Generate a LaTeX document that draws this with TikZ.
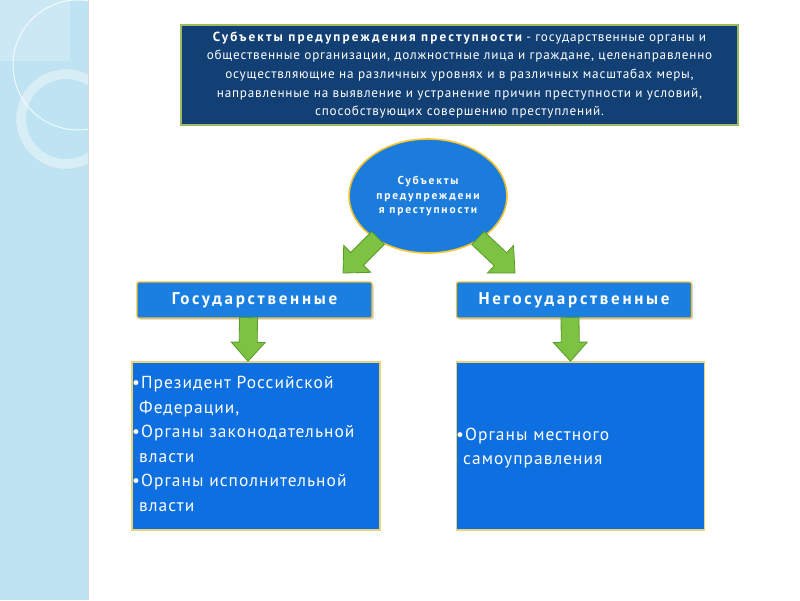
\documentclass[tikz,border=0pt]{standalone}
\usepackage{fontspec}
\setmainfont{PT Sans}[LetterSpace=6]
\newfontfamily\lblfont{PT Sans}[LetterSpace=16]
\usetikzlibrary{shapes.geometric,calc,shadows}
\definecolor{strip}{HTML}{BEE3F2}
\definecolor{navy}{HTML}{123F74}
\definecolor{topborder}{HTML}{9DBB61}
\definecolor{ellfill}{HTML}{1C7CDC}
\definecolor{gold}{HTML}{F2C230}
\definecolor{lblfill}{HTML}{1A7FE0}
\definecolor{boxfill}{HTML}{0D6FE0}
\definecolor{boxborder}{HTML}{E8D27A}
\definecolor{agreen}{HTML}{7DC242}
\definecolor{adark}{HTML}{5A9A2A}
\tikzset{
  topbox/.style={draw=topborder, line width=2pt, fill=navy, text=white, minimum width=557pt, minimum height=100pt, align=center, inner sep=0pt},
  ellbox/.style={ellipse, draw=gold, line width=1.6pt, fill=ellfill, text=white, minimum width=158pt, minimum height=114pt, align=center, inner sep=0pt, font=\lblfont\fontsize{11.5}{14.5}\selectfont\bfseries},
  lblbox/.style={draw=gold, line width=1.2pt, fill=lblfill, text=white, rounded corners=2pt, minimum width=235pt, minimum height=36pt, font=\lblfont\fontsize{17}{18}\selectfont\bfseries, drop shadow={shadow xshift=1.5pt, shadow yshift=-1.5pt, opacity=0.35}},
  bigbox/.style={draw=boxborder, line width=1.5pt, fill=boxfill, text=white, minimum width=248pt, minimum height=168pt, inner sep=0pt},
  listtext/.style={text=white, align=left, inner sep=0pt, font=\fontsize{17.4}{24.5}\selectfont},
  garrowstyle/.style={fill=agreen, draw=adark, line width=0.8pt, line join=miter},
}
% block arrow from #1 to #2, shaft half width #3, head half width #4, head length #5
\newcommand\garrow[5]{%
  \coordinate (hb) at ($(#2)!#5!(#1)$);
  \path[garrowstyle] ($(#1)!#3!90:(#2)$) -- ($(hb)!#3!-90:(#1)$) -- ($(hb)!#4!-90:(#1)$) -- (#2)
     -- ($(hb)!#4!90:(#1)$) -- ($(hb)!#3!90:(#1)$) -- ($(#1)!#3!-90:(#2)$) -- cycle;
}
\begin{document}
\begin{tikzpicture}[x=1pt,y=-1pt]
\useasboundingbox (0,0) rectangle (800,600);
\fill[white] (0,0) rectangle (800,600);
% left decorative strip
\begin{scope}
\clip (0,0) rectangle (88,600);
\fill[strip] (0,0) rectangle (88,600);
\fill[white,opacity=0.2] (0,0) rectangle (70,61);
\draw[white,opacity=0.8,line width=1pt] (78,65) circle[radius=65];
\draw[white,opacity=0.4,line width=10pt] (66,119) circle[radius=45];
\draw[black!20,opacity=0.3,line width=0.6pt] (66,119) circle[radius=50];
\end{scope}
\draw[black!15,line width=0.8pt] (88.5,0) -- (88.5,600);
% top definition box
\node[topbox] (def) at (459.5,75) {%
  \parbox{550pt}{\centering\fontsize{13.2}{18.6}\selectfont
  {\lblfont\bfseries Субъекты предупреждения преступности} - государственные органы и\\
  общественные организации, должностные лица и граждане, целенаправленно\\
  осуществляющие на различных уровнях и в различных масштабах меры,\\
  направленные на выявление и устранение причин преступности и условий,\\
  способствующих совершению преступлений.}};
% ellipse
\node[ellbox] (ell) at (428,196) {Субъекты\\предупреждени\\я преступности};
% labels
\node[lblbox] (gov) at (254.5,300) {Государственные};
\node[lblbox] (ngov) at (574,300) {Негосударственные};
% bottom boxes
\node[bigbox] (b1) at (256,446) {};
\node[bigbox] (b2) at (580.5,446) {};
\node[listtext, anchor=north west] (t1) at (132,376) {%
  •Президент Российской\\
  \hspace*{7pt}Федерации,\\
  •Органы законодательной\\
  \hspace*{7pt}власти\\
  •Органы исполнительной\\
  \hspace*{7pt}власти};
\node[listtext, anchor=west] (t2) at (456,448) {%
  •Органы местного\\
  \hspace*{7pt}самоуправления};
% arrows
\coordinate (d1s) at (378,238);
\coordinate (d1e) at (343,273);
\coordinate (d2s) at (478,238);
\coordinate (d2e) at (515,273);
\coordinate (v1s) at ($(gov.south)+(-6,-1)$);
\coordinate (v1e) at ($(b1.north)+(-8,0)$);
\coordinate (v2s) at ($(ngov.south)+(-4,-1)$);
\coordinate (v2e) at ($(b2.north)+(-10,0)$);
\garrow{d1s}{d1e}{9pt}{19pt}{20pt}
\garrow{d2s}{d2e}{9pt}{19pt}{20pt}
\garrow{v1s}{v1e}{9pt}{17pt}{19pt}
\garrow{v2s}{v2e}{9pt}{17pt}{19pt}
\end{tikzpicture}
\end{document}
